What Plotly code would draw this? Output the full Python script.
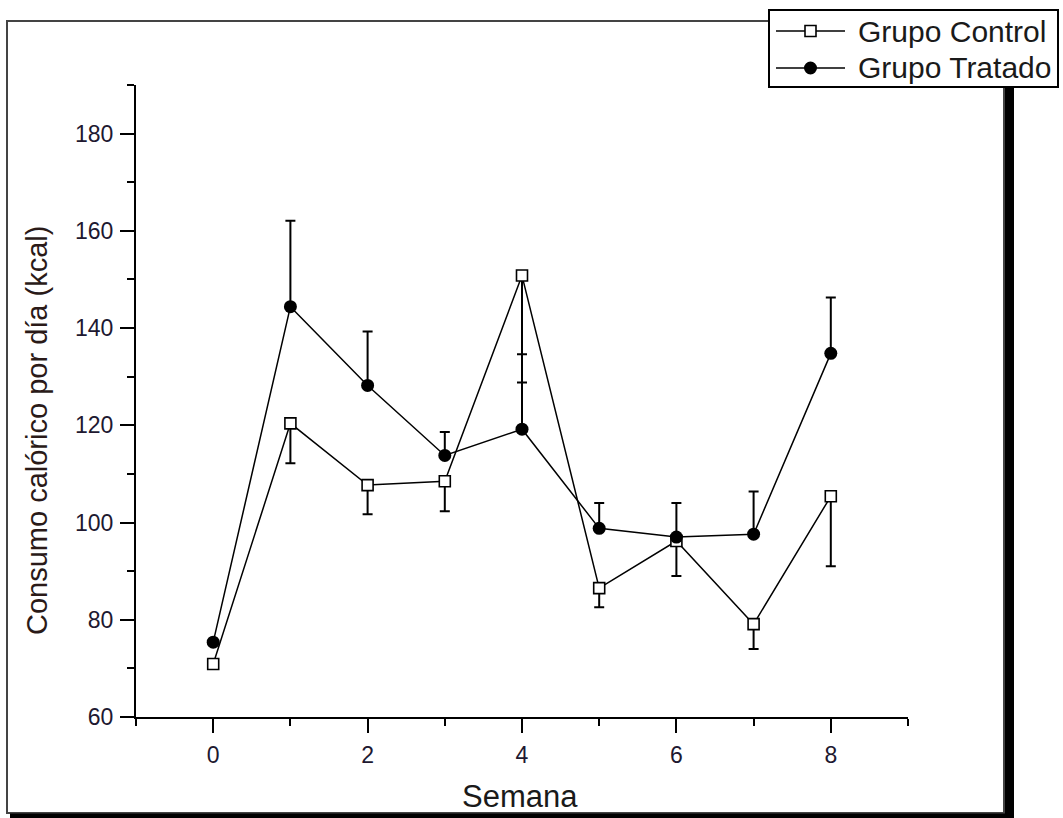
import plotly.graph_objects as go

W, H = 1063, 818

weeks = [0, 1, 2, 3, 4, 5, 6, 7, 8]
control = [70.9, 120.4, 107.7, 108.5, 150.8, 86.5, 96.2, 79.1, 105.4]
control_err_minus = [0, 8.2, 6.0, 6.2, 22.0, 3.9, 7.2, 5.1, 14.4]
tratado = [75.4, 144.4, 128.2, 113.8, 119.2, 98.8, 97.0, 97.6, 134.8]
tratado_err_plus = [0, 17.7, 11.1, 4.8, 15.4, 5.2, 7.0, 8.8, 11.5]

x_ticks = [0, 2, 4, 6, 8]
y_ticks = [60, 80, 100, 120, 140, 160, 180]

FONT = "Arial, Liberation Sans, sans-serif"


def px(x):
    return x / W


def py(y):
    return 1 - y / H


fig = go.Figure()

fig.add_trace(go.Scatter(
    x=weeks, y=control, mode="lines+markers", name="Grupo Control",
    line=dict(color="black", width=1.5),
    marker=dict(symbol="square", size=11, color="white", line=dict(color="black", width=1.6)),
    error_y=dict(type="data", symmetric=False, array=[0] * len(weeks), arrayminus=control_err_minus,
                 color="black", thickness=2, width=5),
    showlegend=False,
))
fig.add_trace(go.Scatter(
    x=weeks, y=tratado, mode="lines+markers", name="Grupo Tratado",
    line=dict(color="black", width=1.5),
    marker=dict(symbol="circle", size=13, color="black", line=dict(color="black", width=0)),
    error_y=dict(type="data", symmetric=False, array=tratado_err_plus, arrayminus=[0] * len(weeks),
                 color="black", thickness=2, width=5),
    showlegend=False,
))

shapes = []
# outer frame
shapes.append(dict(type="rect", xref="paper", yref="paper", x0=px(7), x1=px(1004), y0=py(813), y1=py(21),
                   line=dict(color="#444", width=2), fillcolor="rgba(0,0,0,0)"))
# shadow right and bottom
shapes.append(dict(type="rect", xref="paper", yref="paper", x0=px(1005), x1=px(1014), y0=py(818), y1=py(87),
                   line=dict(width=0), fillcolor="black"))
shapes.append(dict(type="rect", xref="paper", yref="paper", x0=px(10), x1=px(1014), y0=py(818), y1=py(813.5),
                   line=dict(width=0), fillcolor="black"))
# legend box
shapes.append(dict(type="rect", xref="paper", yref="paper", x0=px(769), x1=px(1058), y0=py(87), y1=py(10),
                   line=dict(color="black", width=2), fillcolor="white"))
# legend lines
for yy in (31, 68):
    shapes.append(dict(type="line", xref="paper", yref="paper", x0=px(776), x1=px(845), y0=py(yy), y1=py(yy),
                       line=dict(color="black", width=1.5)))
# legend markers
shapes.append(dict(type="rect", xref="paper", yref="paper", x0=px(805), x1=px(816), y0=py(36.5), y1=py(25.5),
                   line=dict(color="black", width=1.6), fillcolor="white"))
shapes.append(dict(type="circle", xref="paper", yref="paper", x0=px(804), x1=px(817), y0=py(74.5), y1=py(61.5),
                   line=dict(color="black", width=0), fillcolor="black"))

annotations = [
    dict(text="Grupo Control", x=px(856), y=py(31), xref="paper", yref="paper", xanchor="left", yanchor="middle",
         showarrow=False, font=dict(family=FONT, size=30, color="#1a1a1a")),
    dict(text="Grupo Tratado", x=px(856), y=py(67), xref="paper", yref="paper", xanchor="left", yanchor="middle",
         showarrow=False, font=dict(family=FONT, size=30, color="#1a1a1a")),
    dict(text="Consumo calórico por día (kcal)", x=px(37), y=py(431), xref="paper", yref="paper",
         xanchor="center", yanchor="middle", textangle=-90, showarrow=False,
         font=dict(family=FONT, size=29, color="#2a1a18")),
    dict(text="Semana", x=px(520), y=py(796), xref="paper", yref="paper", xanchor="center", yanchor="middle",
         showarrow=False, font=dict(family=FONT, size=31, color="#1a1a1a")),
]

fig.update_layout(
    template="none",
    width=W, height=H, autosize=False,
    margin=dict(l=0, r=0, t=0, b=0, pad=0, autoexpand=False),
    paper_bgcolor="white", plot_bgcolor="white",
    shapes=shapes, annotations=annotations, showlegend=False,
    xaxis=dict(domain=[px(136), px(908)], range=[-1, 9], tickmode="array", tickvals=x_ticks,
               ticktext=[str(v) for v in x_ticks], automargin=False,
               showline=True, linecolor="black", linewidth=2, ticks="outside", ticklen=14, tickwidth=2,
               tickcolor="black", showgrid=False, zeroline=False, ticklabelstandoff=2,
               minor=dict(tickmode="array", tickvals=[-1, 1, 3, 5, 7, 9], ticks="outside", ticklen=7,
                          tickwidth=2, tickcolor="black", showgrid=False),
               tickfont=dict(family=FONT, size=23, color="#201830")),
    yaxis=dict(domain=[py(717), py(85)], range=[60, 190], tickmode="array", tickvals=y_ticks,
               ticktext=[str(v) for v in y_ticks], automargin=False,
               showline=True, linecolor="black", linewidth=2, ticks="outside", ticklen=14, tickwidth=2,
               tickcolor="black", showgrid=False, zeroline=False, ticklabelstandoff=2,
               minor=dict(tickmode="array", tickvals=[70, 90, 110, 130, 150, 170, 190], ticks="outside",
                          ticklen=7, tickwidth=2, tickcolor="black", showgrid=False),
               tickfont=dict(family=FONT, size=23, color="#201830")),
)

post = (
    "document.documentElement.style.margin='0';"
    "document.body.style.margin='0';"
)

fig.write_html("out.html", post_script=post, config={"displayModeBar": False})
